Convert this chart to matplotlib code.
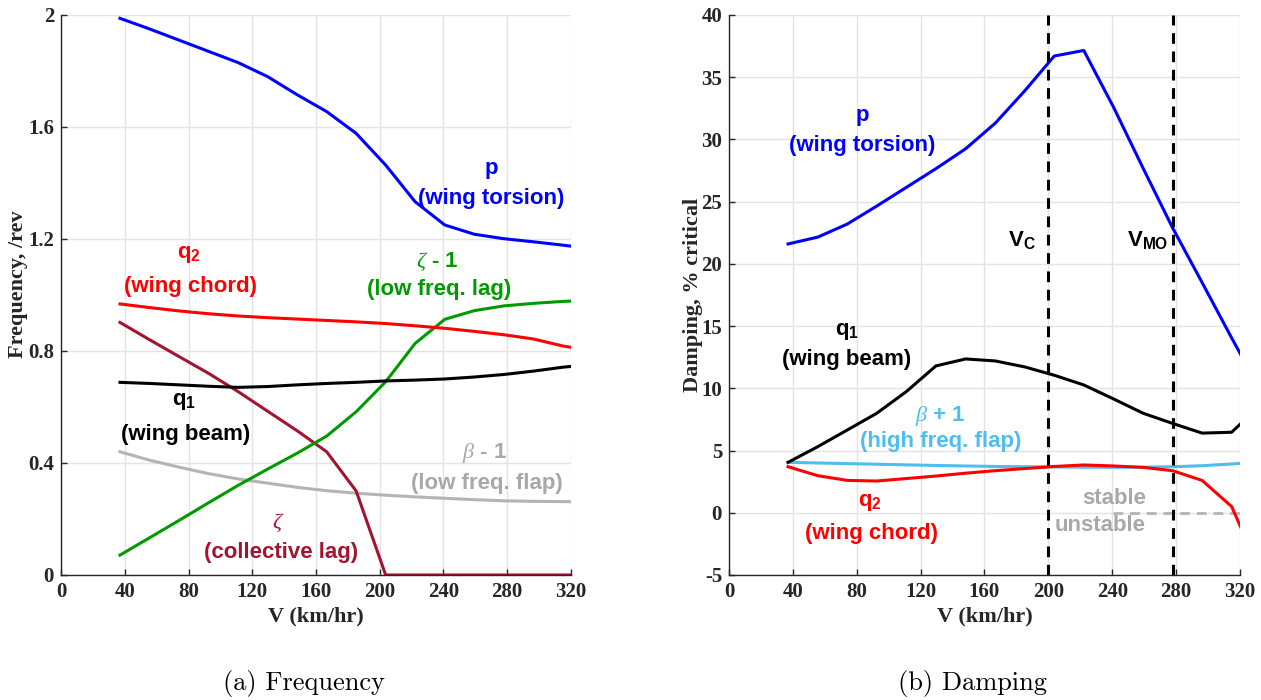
import matplotlib
matplotlib.use("Agg")
import matplotlib.pyplot as plt

plt.rcParams["mathtext.fontset"] = "custom"
plt.rcParams["mathtext.rm"] = "Liberation Sans:bold"
plt.rcParams["mathtext.bf"] = "Liberation Sans:bold"
plt.rcParams["mathtext.it"] = "Liberation Serif:italic"
plt.rcParams["mathtext.default"] = "it"

# Airspeed sweep (10 kt steps, expressed in km/hr)
V_KMH = [37.0, 55.6, 74.1, 92.6, 111.1, 129.6, 148.2, 166.7, 185.2,
         203.7, 222.2, 240.8, 259.3, 277.8, 296.3, 314.8, 333.4]

# Modal frequencies, /rev
freq_p = [1.988, 1.95, 1.91, 1.87, 1.83, 1.78, 1.715, 1.655, 1.577,
          1.464, 1.333, 1.25, 1.217, 1.201, 1.19, 1.178, 1.165]
freq_q2 = [0.968, 0.955, 0.943, 0.933, 0.925, 0.919, 0.914, 0.909, 0.904,
           0.898, 0.890, 0.881, 0.870, 0.858, 0.843, 0.818, 0.80]
freq_zeta = [0.902, 0.84, 0.78, 0.72, 0.655, 0.585, 0.515, 0.44, 0.30,
             0.0, 0.0, 0.0, 0.0, 0.0, 0.0, 0.0, 0.0]
freq_zeta_m1 = [0.071, 0.133, 0.195, 0.258, 0.32, 0.378, 0.435, 0.496, 0.583,
                0.69, 0.827, 0.913, 0.944, 0.961, 0.970, 0.977, 0.982]
freq_q1 = [0.688, 0.684, 0.679, 0.674, 0.670, 0.673, 0.679, 0.684, 0.688,
           0.693, 0.696, 0.700, 0.707, 0.716, 0.728, 0.742, 0.752]
freq_beta_m1 = [0.44, 0.41, 0.385, 0.362, 0.343, 0.328, 0.313, 0.301, 0.292,
                0.285, 0.279, 0.274, 0.269, 0.265, 0.263, 0.262, 0.261]

# Modal damping, % critical
damp_p = [21.6, 22.15, 23.2, 24.65, 26.15, 27.65, 29.25, 31.3, 33.9,
          36.7, 37.15, 32.6, 27.7, 22.9, 18.5, 14.05, 9.7]
damp_q1 = [4.05, 5.31, 6.65, 8.0, 9.74, 11.8, 12.36, 12.2, 11.72,
           11.05, 10.27, 9.15, 8.0, 7.18, 6.4, 6.47, 8.7]
damp_beta_p1 = [4.05, 4.0, 3.95, 3.9, 3.85, 3.8, 3.76, 3.72, 3.7,
                3.68, 3.66, 3.65, 3.66, 3.7, 3.78, 3.92, 4.1]
damp_q2 = [3.7, 2.98, 2.6, 2.55, 2.75, 2.95, 3.18, 3.38, 3.55,
           3.72, 3.84, 3.76, 3.65, 3.38, 2.6, 0.5, -4.9]

V_C = 200.0
V_MO = 277.8

X_TICKS = [0, 40, 80, 120, 160, 200, 240, 280, 320]
FREQ_TICKS = [0, 0.4, 0.8, 1.2, 1.6, 2.0]
FREQ_TICK_LABELS = ["0", "0.4", "0.8", "1.2", "1.6", "2"]
DAMP_TICKS = [-5, 0, 5, 10, 15, 20, 25, 30, 35, 40]

BLUE = "#0000ff"
RED = "#ff0000"
GREEN = "#009a00"
DARKRED = "#a2142f"
GRAY = "#b4b4b4"
GRAY_TXT = "#a8a8a8"
LIGHTBLUE = "#4dbeee"
AXIS_CLR = "#262626"

SERIF_B = dict(family="Liberation Serif", weight="bold")
LABEL_KW = dict(family="Liberation Sans", weight="bold", fontsize=16,
                ha="center", va="center")

fig = plt.figure(figsize=(12.61, 7.0), dpi=100)
ax1 = fig.add_axes([0.0484, 0.1786, 0.4044, 0.8])
ax2 = fig.add_axes([0.5781, 0.1786, 0.4052, 0.8])


def style_axes(ax, yticks, ylabels, ylim, ylabel, ylabel_xy):
    ax.set_xlim(0, 320)
    ax.set_ylim(*ylim)
    ax.set_xticks(X_TICKS)
    ax.set_xticklabels([str(t) for t in X_TICKS], fontsize=15, color=AXIS_CLR, **SERIF_B)
    ax.set_yticks(yticks)
    ax.set_yticklabels(ylabels, fontsize=15, color=AXIS_CLR, **SERIF_B)
    ax.grid(True, color="#e3e3e3", lw=1.0)
    ax.set_axisbelow(True)
    for side in ("top", "right"):
        ax.spines[side].set_visible(False)
    for side in ("left", "bottom"):
        ax.spines[side].set_color(AXIS_CLR)
        ax.spines[side].set_linewidth(1.0)
    ax.tick_params(direction="in", length=4, width=1.0, color=AXIS_CLR, pad=5)
    ax.set_xlabel("V (km/hr)", fontsize=16, color=AXIS_CLR, labelpad=3, **SERIF_B)
    ax.set_ylabel(ylabel, fontsize=16, color=AXIS_CLR, **SERIF_B)
    ax.yaxis.label.set_verticalalignment("center")
    ax.yaxis.set_label_coords(*ylabel_xy)


# ---- (a) Frequency ----
style_axes(ax1, FREQ_TICKS, FREQ_TICK_LABELS, (0, 2), "Frequency, /rev",
           (-0.084, 0.52))
lw = 2.2
ax1.plot(V_KMH, freq_beta_m1, color=GRAY, lw=lw)
ax1.plot(V_KMH, freq_zeta, color=DARKRED, lw=lw)
ax1.plot(V_KMH, freq_zeta_m1, color=GREEN, lw=lw)
ax1.plot(V_KMH, freq_q1, color="black", lw=lw)
ax1.plot(V_KMH, freq_q2, color=RED, lw=lw)
ax1.plot(V_KMH, freq_p, color=BLUE, lw=lw)

ax1.text(270.2, 1.446, r"$\mathbf{p}$", color=BLUE, **LABEL_KW)
ax1.text(270.2, 1.346, "(wing torsion)", color=BLUE, **LABEL_KW)
ax1.text(80.0, 1.143, r"$\mathbf{q}_{\mathbf{2}}$", color=RED, **LABEL_KW)
ax1.text(81.0, 1.032, "(wing chord)", color=RED, **LABEL_KW)
ax1.text(236.0, 1.119, r"$\zeta$ - 1", color=GREEN, **LABEL_KW)
ax1.text(237.0, 1.020, "(low freq. lag)", color=GREEN, **LABEL_KW)
ax1.text(77.0, 0.619, r"$\mathbf{q}_{\mathbf{1}}$", color="black", **LABEL_KW)
ax1.text(78.0, 0.500, "(wing beam)", color="black", **LABEL_KW)
ax1.text(266.0, 0.437, r"$\beta$ - 1", color=GRAY_TXT, **LABEL_KW)
ax1.text(267.0, 0.327, "(low freq. flap)", color=GRAY_TXT, **LABEL_KW)
ax1.text(136.3, 0.185, r"$\zeta$", color=DARKRED, **LABEL_KW)
ax1.text(138.0, 0.082, "(collective lag)", color=DARKRED, **LABEL_KW)

# ---- (b) Damping ----
style_axes(ax2, DAMP_TICKS, [str(t) for t in DAMP_TICKS], (-5, 40),
           "Damping, % critical", (-0.0705, 0.50))
dash = (0, (3.5, 2.5))
ax2.plot([240.8, 320], [0, 0], color=GRAY, lw=2.0, ls=dash)
ax2.plot(V_KMH, damp_beta_p1, color=LIGHTBLUE, lw=lw)
ax2.plot(V_KMH, damp_q2, color=RED, lw=lw)
ax2.plot(V_KMH, damp_q1, color="black", lw=lw)
ax2.plot(V_KMH, damp_p, color=BLUE, lw=lw)
ax2.axvline(V_C, color="black", lw=2.2, ls=dash)
ax2.axvline(V_MO, color="black", lw=2.2, ls=dash)

ax2.text(83.2, 31.75, r"$\mathbf{p}$", color=BLUE, **LABEL_KW)
ax2.text(83.2, 29.5, "(wing torsion)", color=BLUE, **LABEL_KW)
ax2.text(183.5, 21.9, r"$\mathbf{V}_{\mathbf{C}}$", color="black", **LABEL_KW)
ax2.text(262.5, 21.9, r"$\mathbf{V}_{\mathbf{MO}}$", color="black", **LABEL_KW)
ax2.text(73.8, 14.6, r"$\mathbf{q}_{\mathbf{1}}$", color="black", **LABEL_KW)
ax2.text(73.8, 12.3, "(wing beam)", color="black", **LABEL_KW)
ax2.text(132.3, 7.8, r"$\beta$ + 1", color=LIGHTBLUE, **LABEL_KW)
ax2.text(132.3, 5.7, "(high freq. flap)", color=LIGHTBLUE, **LABEL_KW)
ax2.text(88.4, 0.85, r"$\mathbf{q}_{\mathbf{2}}$", color=RED, **LABEL_KW)
ax2.text(89.0, -1.65, "(wing chord)", color=RED, **LABEL_KW)
stab_kw = dict(LABEL_KW)
stab_kw["ha"] = "right"
ax2.text(261.0, 1.15, "stable", color=GRAY_TXT, **stab_kw)
ax2.text(261.0, -1.0, "unstable", color=GRAY_TXT, **stab_kw)

# Sub-figure captions
fig.text(0.2411, 0.024, "(a) Frequency", family="cmr10", fontsize=19,
         ha="center", va="center", color="black")
fig.text(0.7708, 0.024, "(b) Damping", family="cmr10", fontsize=19,
         ha="center", va="center", color="black")

fig.savefig("out.png", dpi=100)
